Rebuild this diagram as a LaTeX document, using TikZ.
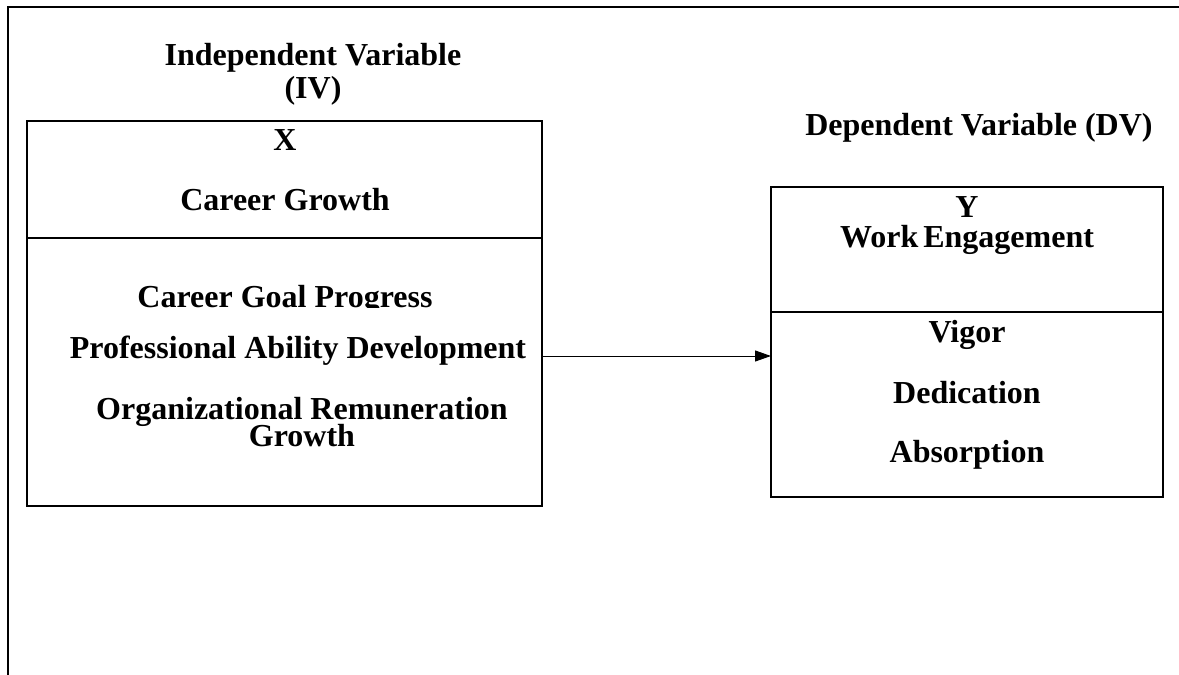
\documentclass[tikz,border=0pt]{standalone}
\usepackage{fontspec}
\setmainfont{Liberation Serif}
\usetikzlibrary{arrows.meta}
\tikzset{
  lbl/.style={anchor=base,inner sep=0pt,font=\fontsize{32}{20.5}\selectfont\bfseries,align=center},
  boxline/.style={line width=2pt},
  frameline/.style={line width=2.6pt},
  conn/.style={line width=1pt,-{Triangle[length=16pt,width=11pt]}}
}
\begin{document}
\begin{tikzpicture}[x=1pt,y=-1pt]
\useasboundingbox (0,0) rectangle (1179,675);
\fill[white] (0,0) rectangle (1179,675);
% outer frame
\coordinate (ftl) at (8,7);
\coordinate (ftr) at (1179,7);
\coordinate (fbl) at (8,675);
\draw[frameline] (ftr) -- (ftl) -- (fbl);
% left box
\draw[boxline] (27,121) rectangle (542,506);
\draw[boxline] (27,238) -- (542,238);
\coordinate (lb) at (542,356);
% right box
\draw[boxline] (771,187) rectangle (1163,497);
\draw[boxline] (771,312) -- (1163,312);
\coordinate (rb) at (771,356);
% texts left
\node[lbl] (iv) at (313,98) {Independent Variable\\[2pt](IV)};
\node[lbl] (x) at (285,150) {X};
\node[lbl] (cg) at (285,210) {Career Growth};
\begin{scope}
\clip (30,240) rectangle (540,307);
\node[lbl] (cgp) at (285,307) {Career Goal Progress};
\end{scope}
\node[lbl] (pad) at (298,358) {Professional Ability Development};
\node[lbl] (org) at (302,446) {Organizational Remuneration\\[-4pt]Growth};
% texts right
\node[lbl] (dv) at (979,135) {Dependent Variable (DV)};
\node[lbl] (y) at (967,217) {Y};
\node[lbl] (we) at (967,247) {Work\kern5pt Engagement};
\node[lbl] (vig) at (967,342) {Vigor};
\node[lbl] (ded) at (967,403) {Dedication};
\node[lbl] (abs) at (967,462) {Absorption};
% connector
\draw[conn] (lb) -- (rb);
\end{tikzpicture}
\end{document}
